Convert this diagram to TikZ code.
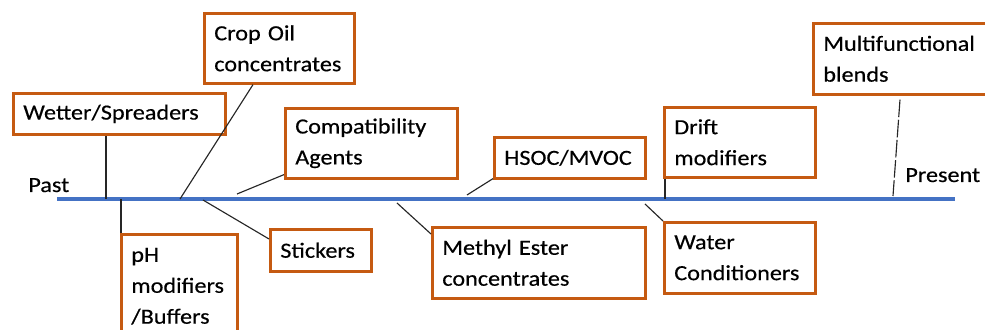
\documentclass[tikz,border=0pt]{standalone}
\usepackage{fontspec}
\newfontfamily\labelfont[FakeStretch=1.12,FakeBold=0.4]{Carlito}
\usepackage{tikz}
\usetikzlibrary{calc}
\definecolor{boxorange}{HTML}{C55A11}
\definecolor{lineblue}{HTML}{4472C4}
\tikzset{
  stage/.style={draw=boxorange,line width=1.5pt,anchor=north west,align=left,
    inner xsep=0.2cm,inner ysep=0pt,font=\labelfont\fontsize{12.3}{17.6}\selectfont},
  era/.style={anchor=base west,inner sep=0pt,font=\labelfont\fontsize{12.3}{17.6}\selectfont},
  link/.style={line width=0.65pt,black!85}
}
\begin{document}
\begin{tikzpicture}[x=0.02cm,y=-0.02cm]
  \useasboundingbox (0,0) rectangle (985,330);
  \coordinate (start) at (57,199);
  \coordinate (end) at (955,199);
  \draw[lineblue,line width=2.1pt] (start) -- (end);
  \node[era] (past) at (28,192) {Past};
  \node[era] (present) at (905,182) {Present};
  \node[stage,text width=3.85cm,minimum height=0.82cm] (wetter) at (12,92) {Wetter/Spreaders};
  \node[stage,text width=2.61cm,minimum height=1.4cm] (cropoil) at (203,12) {Crop Oil\\concentrates};
  \node[stage,text width=3.05cm,minimum height=1.4cm] (compat) at (284,107) {Compatibility\\Agents};
  \node[stage,text width=1.93cm,minimum height=2.08cm] (ph) at (120,233) {pH\\modifiers\\/Buffers};
  \node[stage,text width=1.63cm,minimum height=0.84cm] (stickers) at (269,228) {Stickers};
  \node[stage,text width=2.63cm,minimum height=0.82cm] (hsoc) at (493,136) {HSOC/MVOC};
  \node[stage,text width=3.87cm,minimum height=1.42cm] (methyl) at (431,226) {Methyl Ester\\concentrates};
  \node[stage,text width=2.63cm,minimum height=1.4cm] (drift) at (663,106) {Drift\\modifiers};
  \node[stage,text width=2.63cm,minimum height=1.42cm] (water) at (663,221) {Water\\Conditioners};
  \node[stage,text width=3.11cm,minimum height=1.42cm] (multi) at (812,22) {Multifunctional\\blends};
  \coordinate (t1) at (106,199);
  \coordinate (t2) at (121,199);
  \coordinate (t3) at (180,199);
  \coordinate (t4) at (203,200);
  \coordinate (t5) at (237,194);
  \coordinate (t6) at (397,203);
  \coordinate (t7) at (467,195);
  \coordinate (t8) at (645,204);
  \coordinate (t9) at (665,199);
  \coordinate (t10) at (893,196);
  \draw[link] ($(wetter.south west)+(94,0)$) -- (t1);
  \draw[link] (t2) -- ($(ph.north west)+(1,0)$);
  \draw[link] ($(cropoil.south west)+(50,0)$) -- (t3);
  \draw[link] (t4) -- ($(stickers.north west)+(0,11)$);
  \draw[link] ($(compat.south west)+(0,-5)$) -- (t5);
  \draw[link] (t6) -- ($(methyl.north west)+(0,8)$);
  \draw[link] ($(hsoc.south west)+(0,-1)$) -- (t7);
  \draw[link] (t8) -- (water.north west);
  \draw[link] ($(drift.south west)+(2,0)$) -- (t9);
  \draw[link,dash pattern=on 10pt off 1.5pt] ($(multi.south west)+(88,4)$) -- (t10);
\end{tikzpicture}
\end{document}
